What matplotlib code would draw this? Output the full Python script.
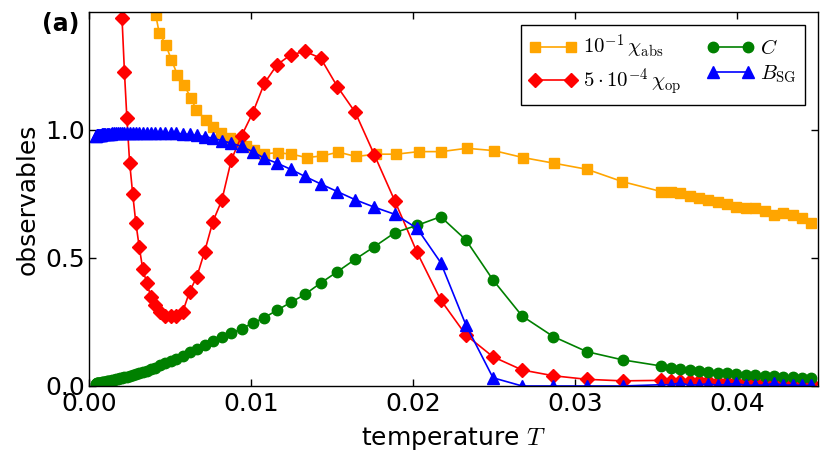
import matplotlib
matplotlib.use('Agg')
import matplotlib.pyplot as plt

plt.rcParams['font.family'] = ['DejaVu Sans']
plt.rcParams['mathtext.fontset'] = 'cm'

# ---- data ----
# low-T grid shared by C and B_SG (markers overlap into a band here)
T_low = [0.00041, 0.00044, 0.00047, 0.00051, 0.00054, 0.00058, 0.00062, 0.00067,
         0.00072, 0.00077, 0.00083, 0.00088, 0.00095, 0.00102, 0.00109, 0.00117,
         0.00125, 0.00134, 0.00144, 0.00155, 0.00166, 0.00178, 0.00190]
T_mid = [0.00204, 0.00219, 0.00234, 0.00251, 0.00270, 0.00289, 0.00310, 0.00332,
         0.00356, 0.00382, 0.00409, 0.00439, 0.00470, 0.00504, 0.00540, 0.00579,
         0.00621, 0.00666, 0.00714, 0.00765, 0.00820, 0.00879, 0.00942, 0.01010,
         0.01083, 0.01161, 0.01245, 0.01334, 0.01430, 0.01533, 0.01644, 0.01762,
         0.01889, 0.02025, 0.02171, 0.02327, 0.02494, 0.02674, 0.02866, 0.03073,
         0.03294]
T_high = [0.03533, 0.03591, 0.03649, 0.03707, 0.03765, 0.03823, 0.03881, 0.03939,
          0.03997, 0.04054, 0.04112, 0.04170, 0.04228, 0.04286, 0.04344, 0.04402,
          0.04460]

# 10^-1 chi_abs
T_abs = [0.00382, 0.00412, 0.00433, 0.00474, 0.00509, 0.00546, 0.00587, 0.00629,
         0.00663, 0.00721, 0.00766, 0.00814, 0.00870, 0.00917, 0.00968, 0.01020,
         0.01082, 0.01164, 0.01250, 0.01343, 0.01438, 0.01539, 0.01648, 0.01772,
         0.01896, 0.02035, 0.02174, 0.02332, 0.02499, 0.02678, 0.02868, 0.03074,
         0.03292] + T_high
chi_abs = [1.52, 1.449, 1.380, 1.332, 1.273, 1.215, 1.176, 1.124,
           1.078, 1.039, 1.013, 0.989, 0.968, 0.954, 0.935, 0.922,
           0.906, 0.911, 0.905, 0.892, 0.898, 0.913, 0.896, 0.905,
           0.905, 0.915, 0.915, 0.928, 0.919, 0.892, 0.870, 0.846,
           0.798,
           0.759, 0.759, 0.753, 0.742, 0.733, 0.727, 0.720, 0.711,
           0.700, 0.696, 0.693, 0.684, 0.668, 0.675, 0.668, 0.655,
           0.638]

# 5*10^-4 chi_op
T_op = [0.00190] + T_mid + T_high
chi_op = [1.65,
          1.436, 1.225, 1.046, 0.872, 0.749, 0.638, 0.544, 0.456,
          0.404, 0.349, 0.315, 0.290, 0.275, 0.275, 0.272, 0.290,
          0.368, 0.427, 0.525, 0.642, 0.725, 0.883, 0.977, 1.065,
          1.182, 1.254, 1.293, 1.306, 1.280, 1.169, 1.068, 0.902,
          0.721, 0.522, 0.336, 0.199, 0.114, 0.0625, 0.040, 0.026,
          0.020,
          0.022, 0.021, 0.020, 0.019, 0.018, 0.018, 0.017, 0.016,
          0.016, 0.015, 0.015, 0.014, 0.014, 0.013, 0.013, 0.012,
          0.012]

# specific heat C
T_C = T_low + T_mid + T_high
C_vals = [0.009, 0.009, 0.010, 0.010, 0.011, 0.011, 0.012, 0.012,
          0.013, 0.013, 0.014, 0.015, 0.016, 0.017, 0.018, 0.019,
          0.020, 0.021, 0.023, 0.024, 0.026, 0.028, 0.030,
          0.032, 0.034, 0.037, 0.040, 0.043, 0.047, 0.051, 0.055,
          0.060, 0.066, 0.072, 0.080, 0.088, 0.097, 0.106, 0.117,
          0.131, 0.145, 0.159, 0.174, 0.191, 0.206, 0.224, 0.245,
          0.267, 0.296, 0.326, 0.358, 0.402, 0.446, 0.495, 0.544,
          0.599, 0.627, 0.661, 0.570, 0.414, 0.273, 0.193, 0.134,
          0.102,
          0.078, 0.072, 0.066, 0.063, 0.059, 0.055, 0.052, 0.049,
          0.047, 0.044, 0.042, 0.039, 0.038, 0.035, 0.034, 0.031,
          0.030]

# Binder cumulant B_SG
T_B = T_low + T_mid + T_high
B_vals = [0.976, 0.977, 0.978, 0.978, 0.979, 0.979, 0.980, 0.980,
          0.981, 0.981, 0.982, 0.982, 0.983, 0.983, 0.984, 0.984,
          0.985, 0.985, 0.986, 0.986, 0.987, 0.987, 0.987,
          0.988, 0.988, 0.988, 0.989, 0.989, 0.989, 0.989, 0.989,
          0.989, 0.989, 0.989, 0.988, 0.988, 0.987, 0.986, 0.984,
          0.982, 0.978, 0.974, 0.967, 0.958, 0.948, 0.935, 0.915,
          0.889, 0.870, 0.846, 0.818, 0.789, 0.759, 0.727, 0.698,
          0.670, 0.616, 0.482, 0.238, 0.032, 0.0, 0.0, 0.0,
          0.0,
          0.005, 0.005, 0.012, 0.003, 0.005, 0.008, 0.003, 0.006,
          0.010, 0.002, 0.004, 0.003, 0.010, 0.003, 0.004, 0.002,
          0.002]

x_ticks = [0.00, 0.01, 0.02, 0.03, 0.04]
y_ticks = [0.0, 0.5, 1.0]

fig = plt.figure(figsize=(8.3, 4.66), dpi=100)
ax = fig.add_axes([0.1072, 0.1717, 0.8783, 0.8025])

ax.plot(T_abs, chi_abs, '-s', color='orange', mec='orange', ms=7.5, lw=1.2,
        label=r'$10^{-1}\,\chi_{\rm abs}$')
ax.plot(T_op, chi_op, '-D', color='red', mec='red', ms=7, lw=1.2,
        label=r'$5\cdot10^{-4}\,\chi_{\rm op}$')
ax.plot(T_C, C_vals, '-o', color='green', mec='green', ms=7.5, lw=1.2,
        label=r'$C$')
ax.plot(T_B, B_vals, '-^', color='blue', mec='blue', ms=8, lw=1.2,
        label=r'$B_{\rm SG}$')

ax.set_xlim(0, 0.045)
ax.set_ylim(0, 1.46)
ax.set_xticks(x_ticks)
ax.set_yticks(y_ticks)
ax.set_xticklabels(['%.2f' % v for v in x_ticks])
ax.set_yticklabels(['%.1f' % v for v in y_ticks])
ax.tick_params(direction='in', top=True, right=True, length=5, width=1,
               labelsize=18)
ax.tick_params(axis='x', pad=4)
ax.tick_params(axis='y', pad=3)
for s in ax.spines.values():
    s.set_linewidth(1.0)

ax.set_xlabel(r'temperature $T$', fontsize=18, labelpad=7)
ax.set_ylabel('observables', fontsize=18, labelpad=4)

leg = ax.legend(loc='upper right', ncol=2, fontsize=15, numpoints=2,
                handlelength=2.3, fancybox=False, framealpha=1,
                edgecolor='black', borderaxespad=0.6, columnspacing=1.2,
                handletextpad=0.3, labelspacing=0.25)
leg.get_frame().set_linewidth(1.0)

fig.text(0.05, 0.948, '(a)', fontsize=17, fontweight='bold', va='center')

fig.savefig('out.png', dpi=100)
